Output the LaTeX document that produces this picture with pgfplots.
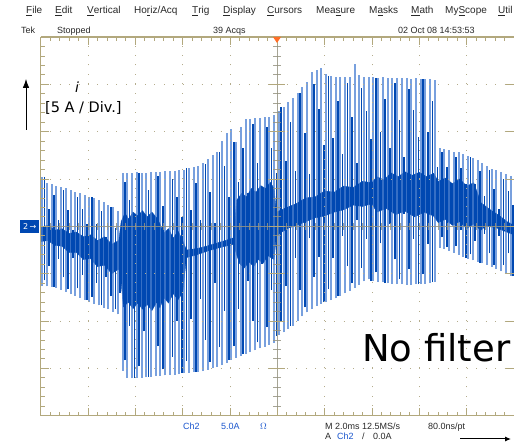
\documentclass[border=0pt]{standalone}
\usepackage{pgfplots}
\pgfplotsset{compat=1.18}
\usepackage{pgfplotstable}
\usepackage{fontspec}
\setmainfont{Liberation Sans}
\newfontfamily\dejavu{DejaVu Sans}
\usetikzlibrary{arrows.meta}
\definecolor{lightb}{RGB}{120,160,222}
\definecolor{darkb}{RGB}{0,72,178}
\definecolor{tanc}{RGB}{178,168,125}
\definecolor{dotc}{RGB}{180,172,140}
\definecolor{cenc}{RGB}{150,148,130}
\definecolor{txtblue}{RGB}{25,85,205}
\definecolor{txtgray}{RGB}{40,40,40}
\definecolor{trig}{RGB}{255,110,40}

% light-blue switching spikes: x [div], top, bottom [div]
\pgfplotstableread{
x hi lo
0.03 1.04 -1.25
0.13 0.92 -1.27
0.23 0.89 -1.28
0.33 0.86 -1.30
0.43 0.83 -1.34
0.53 0.80 -1.38
0.63 0.77 -1.43
0.73 0.73 -1.47
0.83 0.70 -1.51
0.93 0.67 -1.55
1.03 0.63 -1.60
1.13 0.60 -1.63
1.23 0.56 -1.67
1.33 0.52 -1.72
1.43 0.46 -1.75
1.53 0.40 -1.80
1.63 0.33 -1.86
1.73 1.12 -3.05
1.83 1.13 -3.20
1.93 1.12 -3.21
2.03 1.14 -3.20
2.13 1.13 -3.20
2.23 1.12 -3.19
2.33 1.14 -3.18
2.43 1.15 -3.16
2.53 1.15 -3.16
2.63 1.16 -3.15
2.73 1.16 -3.14
2.83 1.17 -3.13
2.93 1.18 -3.12
3.03 1.20 -3.10
3.13 1.24 -3.09
3.23 1.26 -3.08
3.33 1.28 -3.07
3.43 1.34 -3.06
3.53 1.42 -3.03
3.63 1.50 -3.00
3.73 1.58 -2.97
3.83 1.80 -2.93
3.93 1.97 -2.88
4.03 2.05 -2.82
4.13 1.78 -2.78
4.23 2.10 -2.74
4.33 2.26 -2.70
4.43 2.27 -2.66
4.53 2.28 -2.62
4.63 2.29 -2.58
4.73 2.30 -2.54
4.83 2.32 -2.50
4.93 2.35 -2.46
5.03 2.44 -2.30
5.13 2.52 -2.24
5.23 2.62 -2.17
5.33 2.72 -2.10
5.43 2.82 -2.00
5.53 2.95 -1.90
5.63 3.05 -1.82
5.73 3.25 -1.75
5.83 3.30 -1.68
5.93 3.35 -1.63
6.03 3.22 -1.60
6.13 3.17 -1.56
6.23 3.16 -1.52
6.33 3.16 -1.47
6.43 3.15 -1.41
6.53 3.15 -1.36
6.63 3.42 -1.30
6.73 3.20 -1.23
6.83 3.16 -1.16
6.93 3.15 -1.12
7.03 3.15 -1.15
7.13 3.14 -1.17
7.23 3.15 -1.18
7.33 3.14 -1.20
7.43 3.13 -1.21
7.53 3.14 -1.22
7.63 3.13 -1.22
7.73 3.13 -1.23
7.83 3.12 -1.23
7.93 3.13 -1.22
8.03 3.12 -1.22
8.13 3.11 -1.21
8.23 3.12 -1.20
8.33 3.10 -1.18
8.43 1.66 -0.45
8.53 1.64 -0.48
8.63 1.62 -0.52
8.73 1.58 -0.56
8.83 1.56 -0.60
8.93 1.52 -0.64
9.03 1.48 -0.68
9.13 1.45 -0.72
9.23 1.40 -0.75
9.33 1.34 -0.78
9.43 1.28 -0.81
9.53 1.22 -0.85
9.63 1.18 -0.90
9.73 1.14 -0.95
9.83 1.10 -1.00
9.93 1.06 -1.04
}\lightT

% dark-blue spikes
\pgfplotstableread{
x hi lo
0.08 1.04 -1.14
0.18 0.36 -0.84
0.28 0.67 -1.28
0.38 0.13 -0.68
0.48 0.77 -1.08
0.58 0.35 -1.33
0.68 -0.07 -0.67
0.78 0.62 -1.31
0.88 0.37 -1.02
0.98 0.06 -1.55
1.08 0.63 -1.49
1.18 0.04 -1.19
1.28 0.33 -1.67
1.38 -0.22 -1.06
1.48 0.40 -1.48
1.58 -0.04 -1.75
1.68 -0.26 -1.41
1.78 0.94 -2.83
1.88 0.56 -2.10
1.98 0.10 -3.20
2.08 1.13 -2.96
2.18 0.18 -2.22
2.28 0.76 -3.18
2.38 -0.08 -1.71
2.48 1.06 -2.53
2.58 0.42 -3.02
2.68 -0.22 -1.44
2.78 0.99 -2.75
2.88 0.63 -1.99
2.98 0.20 -3.10
3.08 1.24 -2.84
3.18 0.35 -1.96
3.28 0.91 -3.07
3.38 0.14 -1.54
3.48 1.32 -2.40
3.58 0.73 -2.87
3.68 0.08 -1.19
3.78 1.58 -2.55
3.88 1.27 -1.78
3.98 0.61 -2.82
4.08 1.78 -2.53
4.18 0.94 -1.74
4.28 1.66 -2.70
4.38 0.70 -1.15
4.48 2.16 -2.00
4.58 1.34 -2.45
4.68 0.55 -0.79
4.78 2.09 -2.13
4.88 1.65 -1.35
4.98 1.12 -2.32
5.08 2.52 -2.01
5.18 1.38 -1.25
5.28 2.21 -2.10
5.38 1.16 -0.66
5.48 2.82 -1.35
5.58 1.97 -1.71
5.68 1.10 -0.25
5.78 3.01 -1.07
5.88 2.48 -0.64
5.98 1.72 -1.60
6.08 3.17 -1.33
6.18 1.86 -0.67
6.28 2.64 -1.47
6.38 1.52 -0.20
6.48 3.02 -0.84
6.58 2.31 -1.20
6.68 1.33 0.13
6.78 2.92 -0.88
6.88 2.43 -0.26
6.98 1.85 -1.15
7.08 3.14 -0.97
7.18 1.99 -0.36
7.28 2.68 -1.20
7.38 1.66 0.04
7.48 3.03 -0.70
7.58 2.24 -1.11
7.68 1.46 0.26
7.78 2.90 -0.90
7.88 2.46 -0.26
7.98 1.89 -1.22
8.08 3.11 -1.01
8.18 2.00 -0.37
8.28 2.65 -1.18
8.38 1.25 0.23
8.48 1.58 -0.23
8.58 1.25 -0.44
8.68 0.87 0.27
8.78 1.47 -0.41
8.88 1.23 -0.08
8.98 0.89 -0.66
9.08 1.46 -0.59
9.18 0.90 -0.30
9.28 1.16 -0.77
9.38 0.64 -0.16
9.48 1.20 -0.57
9.58 0.78 -0.82
9.68 0.37 -0.20
9.78 1.01 -0.82
9.88 0.75 -0.57
9.98 0.45 -1.05
}\darkT

\begin{document}
\begin{tikzpicture}
\useasboundingbox (0pt,0pt) rectangle (514pt,443pt);
\begin{axis}[at={(40.7pt,27.3pt)}, anchor=south west,
  width=473.3pt, height=378.7pt, scale only axis,
  xmin=0, xmax=10, ymin=-4, ymax=4, hide axis]
\addplot[draw=lightb, line width=2.0pt, quiver={u=0, v=\thisrow{hi}-\thisrow{lo}}]
  table[x=x, y=lo] {\lightT};
% dense ripple band (many overlapping switching periods)
\addplot[fill=darkb, draw=darkb, line width=0.4pt] coordinates {
 (0,-0.02) (0.15,0.02) (0.3,-0.08) (0.45,-0.05) (0.6,-0.15) (0.75,-0.12) (0.9,-0.22)
 (1.05,-0.18) (1.2,-0.30) (1.35,-0.22) (1.5,-0.38) (1.65,-0.30)
 (1.70,0.10) (1.78,0.28) (1.86,0.15) (1.95,0.30) (2.05,0.22) (2.15,0.33) (2.25,0.20)
 (2.35,0.30) (2.45,0.18) (2.52,0.05) (2.6,-0.15) (2.7,-0.05) (2.8,-0.25) (2.9,-0.10)
 (3.0,-0.30) (3.08,-0.50)
 (3.3,-0.47) (3.5,-0.42) (3.7,-0.36) (3.9,-0.30) (4.08,-0.24)
 (4.14,0.55) (4.25,0.70) (4.35,0.62) (4.45,0.80) (4.55,0.72) (4.65,0.86) (4.75,0.80)
 (4.85,0.93) (4.93,0.80) (4.98,0.30)
 (5.2,0.40) (5.4,0.48) (5.6,0.60) (5.8,0.62) (6.0,0.75) (6.2,0.72) (6.4,0.85) (6.6,0.82)
 (6.8,0.95) (7.0,0.92)
 (7.1,1.05) (7.25,0.98) (7.4,1.13) (7.55,1.05) (7.7,1.15) (7.85,1.08) (8.0,1.14)
 (8.15,1.05) (8.3,1.12) (8.4,0.95) (8.55,1.02) (8.7,0.90) (8.85,1.0) (9.0,0.85)
 (9.15,0.92) (9.3,0.50) (9.5,0.35) (9.7,0.22) (9.85,0.10) (10,0.02)
 (10,-0.18) (9.8,-0.10) (9.6,-0.02) (9.4,0.0) (9.3,-0.08) (9.15,0.05) (9.0,-0.05)
 (8.85,0.10) (8.7,0.02) (8.55,0.15) (8.4,0.08) (8.3,0.22) (8.1,0.30) (7.9,0.20)
 (7.7,0.32) (7.5,0.25) (7.3,0.38) (7.1,0.30) (7.0,0.48) (6.8,0.42) (6.6,0.45) (6.4,0.35)
 (6.2,0.30) (6.0,0.22) (5.8,0.18) (5.6,0.10) (5.4,0.02) (5.2,-0.05) (4.98,-0.20)
 (4.93,-0.70) (4.8,-0.62) (4.7,-0.78) (4.6,-0.70) (4.5,-0.85) (4.4,-0.75) (4.3,-0.88)
 (4.2,-0.78) (4.14,-0.60) (4.08,-0.38)
 (3.9,-0.42) (3.7,-0.47) (3.5,-0.53) (3.3,-0.60) (3.08,-0.66)
 (3.0,-1.40) (2.9,-1.55) (2.8,-1.42) (2.7,-1.62) (2.6,-1.50) (2.52,-1.72) (2.45,-1.60)
 (2.35,-1.78) (2.25,-1.65) (2.15,-1.75) (2.05,-1.62) (1.95,-1.74) (1.85,-1.60)
 (1.75,-1.70) (1.70,-1.20)
 (1.65,-0.90) (1.5,-1.00) (1.35,-0.82) (1.2,-0.85) (1.05,-0.68) (0.9,-0.70) (0.75,-0.55)
 (0.6,-0.55) (0.45,-0.42) (0.3,-0.40) (0.15,-0.30) (0,-0.32)} -- cycle;
\addplot[draw=lightb, opacity=0.45, line width=1.4pt, quiver={u=0, v=\thisrow{hi}-\thisrow{lo}}]
  table[x=x, y=lo] {\lightT};
\addplot[draw=darkb, line width=1.55pt, quiver={u=0, v=\thisrow{hi}-\thisrow{lo}}]
  table[x=x, y=lo] {\darkT};
\end{axis}

% graticule
\begin{scope}[shift={(40.7pt,27.3pt)}, x=47.33pt, y=47.33pt]
 \foreach \k in {1,2,3,4,6,7,8,9}
   \draw[dotc, line width=1pt, dash pattern=on 1pt off 8.466pt] (\k,0) -- (\k,8);
 \foreach \k in {1,2,3,5,6,7}
   \draw[dotc, line width=1pt, dash pattern=on 1pt off 8.466pt] (0,\k) -- (10,\k);
 \draw[cenc, line width=0.9pt, opacity=0.85] (0,4) -- (10,4);
 \draw[cenc, line width=0.9pt, opacity=0.85] (5,0) -- (5,8);
 \foreach \i in {1,...,49}
   \draw[cenc, line width=0.9pt, opacity=0.85] (\i/5,4) ++(0,-3.5pt) -- ++(0,7pt);
 \foreach \j in {1,...,39}
   \draw[cenc, line width=0.9pt, opacity=0.85] (5,\j/5) ++(-4pt,0) -- ++(8pt,0);
 \foreach \k in {1,...,7}
   \draw[tanc, line width=0.9pt] (5,\k) ++(-8pt,0) -- ++(16pt,0);
 \draw[tanc, line width=1.2pt] (0,8) -- (10,8);
 \draw[tanc, line width=1.2pt] (0,0) -- (10,0);
 \draw[tanc, line width=1.2pt] (0,0) -- (0,8);
 \foreach \i in {1,...,49} {
   \draw[tanc, line width=0.9pt] (\i/5,0) -- ++(0,3.5pt);
   \draw[tanc, line width=0.9pt] (\i/5,8) -- ++(0,-3.5pt);
 }
 \foreach \k in {1,...,9} {
   \draw[tanc, line width=0.9pt] (\k,0) -- ++(0,7.5pt);
   \draw[tanc, line width=0.9pt] (\k,8) -- ++(0,-7.5pt);
 }
 \foreach \j in {1,...,39}
   \draw[tanc, line width=0.9pt] (0,\j/5) -- ++(4pt,0);
 \foreach \k in {1,...,7} {
   \draw[tanc, line width=0.9pt] (0,\k) -- ++(8pt,0);
   \draw[tanc, line width=0.9pt] (10,\k) -- ++(-8pt,0);
 }
\end{scope}

% trigger marker
\fill[trig] (273pt,406pt) -- (281pt,406pt) -- (277pt,400pt) -- cycle;

% menu bar
\begin{scope}[every node/.style={anchor=base west, inner sep=0pt, font=\fontsize{10}{10}\selectfont, text=txtgray}]
 \node at (26pt,429pt) {\underline{F}ile};
 \node at (55pt,429pt) {\underline{E}dit};
 \node at (87pt,429pt) {\underline{V}ertical};
 \node at (134pt,429pt) {Ho\underline{r}iz/Acq};
 \node at (192pt,429pt) {\underline{T}rig};
 \node at (223pt,429pt) {\underline{D}isplay};
 \node at (267pt,429pt) {\underline{C}ursors};
 \node at (316pt,429pt) {Mea\underline{s}ure};
 \node at (369pt,429pt) {M\underline{a}sks};
 \node at (411pt,429pt) {\underline{M}ath};
 \node at (445pt,429pt) {My\underline{S}cope};
 \node at (498pt,429pt) {\underline{U}til};
\end{scope}
\begin{scope}[every node/.style={anchor=base west, inner sep=0pt, font=\fontsize{9}{9}\selectfont, text=txtgray}]
 \node at (21pt,409.5pt) {Tek};
 \node at (57pt,409.5pt) {Stopped};
 \node at (213pt,409.5pt) {39 Acqs};
 \node at (398pt,409.5pt) {02 Oct 08 14:53:53};
 \node[text=txtblue] at (183pt,13.5pt) {Ch2};
 \node[text=txtblue] at (221pt,13.5pt) {5.0A};
 \node[text=txtblue] at (260pt,13.5pt) {$\Omega$};
 \node at (325pt,13.5pt) {M 2.0ms 12.5MS/s};
 \node at (428pt,13.5pt) {80.0ns/pt};
 \node at (325pt,3pt) {A};
 \node[text=txtblue] at (337pt,3pt) {Ch2};
 \node at (362pt,3pt) {/};
 \node at (373pt,3pt) {0.0A};
\end{scope}
\draw[black, line width=1pt, -{Latex[length=6pt,width=5pt]}] (460pt,4pt) -- (511pt,4pt);

% channel marker
\node[fill=darkb, text=white, inner sep=0pt, minimum width=19pt, minimum height=13pt,
  anchor=east, font=\dejavu\fontsize{8}{8}\selectfont] at (39.5pt,216.5pt) {2\,→};

% axis annotation
\draw[black, line width=0.8pt, -{Latex[length=9pt,width=6.5pt]}] (26pt,313pt) -- (26pt,364pt);
\node[inner sep=0pt, font=\dejavu\fontsize{14}{14}\selectfont\itshape] at (77pt,356pt) {i};
\node[anchor=west, inner sep=0pt, font=\dejavu\fontsize{14.5}{14.5}\selectfont] at (45pt,335pt) {[5 A / Div.]};
\node[anchor=base west, inner sep=0pt, font=\dejavu\fontsize{37}{37}\selectfont] at (362pt,81pt) {No filter};
\end{tikzpicture}
\end{document}
